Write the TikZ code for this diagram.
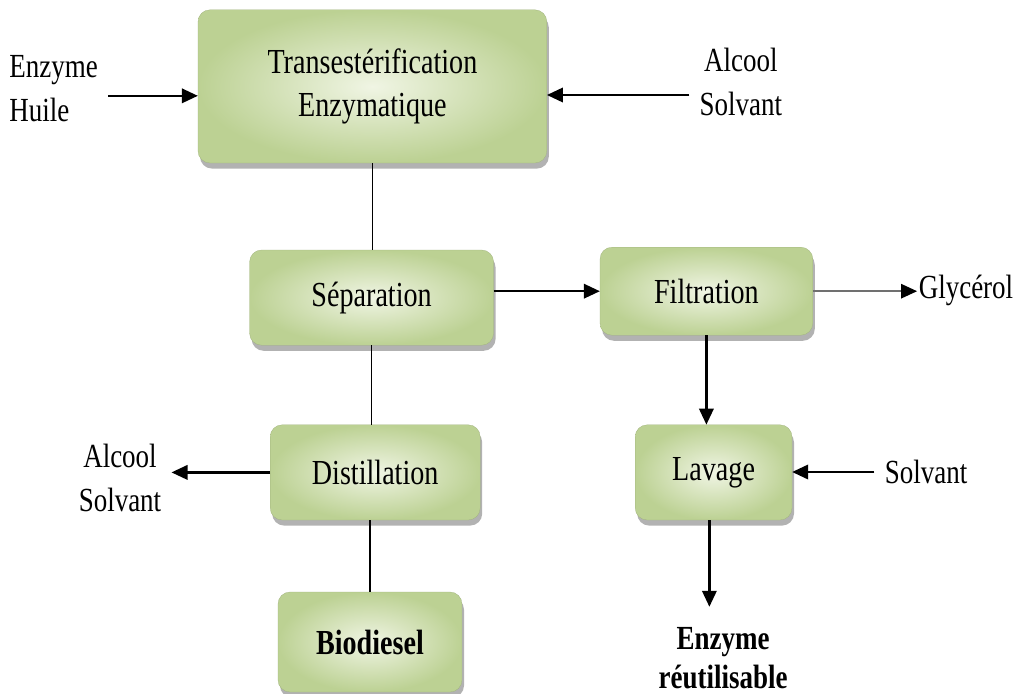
\documentclass[tikz,border=0pt]{standalone}
\usepackage{fontspec}
\setmainfont[FakeStretch=0.8]{Liberation Serif}
\usetikzlibrary{arrows.meta,shadows}
\definecolor{boxdark}{HTML}{BCD193}
\definecolor{boxlight}{HTML}{F0F5E4}
\definecolor{greyline}{HTML}{707070}

\begin{document}
\begin{tikzpicture}[
    box/.style={rounded corners=3mm, align=center, inner sep=0pt, inner color=boxlight, outer color=boxdark,
      draw=boxdark!85!black, very thin,
      drop shadow={shadow xshift=0.5mm, shadow yshift=-1.4mm, fill=black!60, opacity=0.5},
      font=\fontsize{25}{31}\selectfont},
    lbl/.style={align=center, inner sep=0.25cm, font=\fontsize{24}{31}\selectfont},
    arrow/.style={-{Triangle[length=4mm,width=3.6mm,color=black]}, line width=1.6pt},
    link/.style={line width=1.1pt}
  ]
  \useasboundingbox (0,0) rectangle (25.8,-17.35);

  % process boxes
  \node[box, minimum width=8.72cm, minimum height=3.83cm] (trans) at (9.31,-2.16) {Transestérification\\ Enzymatique};
  \node[box, minimum width=6.1cm, minimum height=2.38cm] (sep) at (9.29,-7.44) {Séparation};
  \node[box, minimum width=5.32cm, minimum height=2.2cm] (filt) at (17.66,-7.28) {Filtration};
  \node[box, minimum width=5.25cm, minimum height=2.38cm] (dist) at (9.38,-11.81) {Distillation};
  \node[box, minimum width=3.92cm, minimum height=2.38cm] (lav) at (17.84,-11.81) {Lavage};
  \node[box, minimum width=4.6cm, minimum height=2.5cm, font=\bfseries\fontsize{25}{31}\selectfont] (bio) at (9.25,-16.05) {Biodiesel};

  % inputs and outputs
  \node[lbl, align=left] (inA) at (1.34,-2.22) {Enzyme\\ Huile};
  \node[lbl] (inB) at (18.52,-2.05) {Alcool\\ Solvant};
  \node[lbl, inner sep=1pt] (glyc) at (24.15,-7.25) {Glycérol};
  \node[lbl] (outA) at (3.0,-11.95) {Alcool\\ Solvant};
  \node[lbl] (solv) at (23.15,-11.8) {Solvant};
  \node[lbl, inner sep=0.5cm, font=\bfseries\fontsize{24}{28}\selectfont] (enz) at (18.08,-16.45) {Enzyme\\ réutilisable};

  % connectors
  \draw[arrow] ([yshift=-5pt]inA.east) -- ([yshift=-5pt]inA.east -| trans.west);
  \draw[arrow] (inB.west |- 0,-2.375) -- (trans.east |- 0,-2.375);
  \draw[link] (trans.south) -- (trans.south |- sep.north);
  \draw[arrow] (filt.west -| sep.east) -- (filt.west);
  \draw[arrow, draw=greyline, line width=1.1pt] (filt.east) -- (filt.east -| glyc.west);
  \draw[link] (sep.south) -- (sep.south |- dist.north);
  \draw[arrow] (dist.west) -- (dist.west -| outA.east);
  \draw[link] (bio.north |- dist.south) -- (bio.north);
  \draw[arrow] (filt.south) -- (filt.south |- lav.north);
  \draw[arrow] (solv.west) -- (solv.west -| lav.east);
  \draw[arrow] ([xshift=-3pt]lav.south) -- ([xshift=-3pt]lav.south |- enz.north);
\end{tikzpicture}
\end{document}
